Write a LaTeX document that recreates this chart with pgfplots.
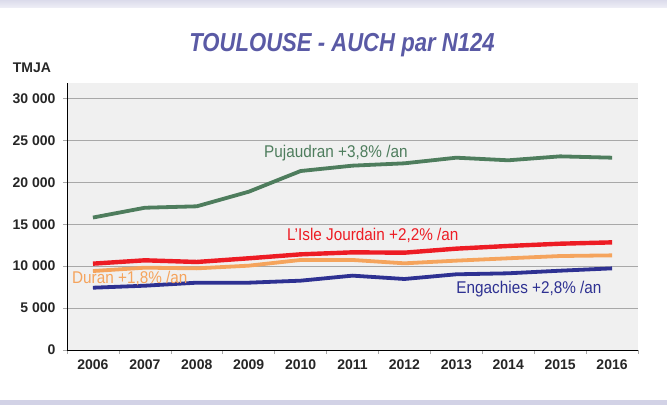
\documentclass[border=0pt]{standalone}
\usepackage{pgfplots}
\pgfplotsset{compat=1.18}
\usepackage{fontspec}
\setmainfont{Liberation Sans}
\newfontfamily\narrowfont[FakeStretch=0.9]{Liberation Sans}
\newfontfamily\titlefont[FakeStretch=0.85]{Liberation Sans}
\definecolor{titleblue}{HTML}{5A5AA5}
\definecolor{pujgreen}{HTML}{4E7D5D}
\definecolor{islered}{HTML}{ED1C24}
\definecolor{duranorange}{HTML}{F5A45D}
\definecolor{engblue}{HTML}{2E3192}
\definecolor{plotbg}{HTML}{F0F0F0}
\definecolor{gridgray}{HTML}{A8A8A8}
\definecolor{band}{HTML}{D2D2E6}

\pgfplotstableread{
x pujaudran isle duran engachies
0 15800 10300 9420 7430
1 16970 10700 9820 7670
2 17140 10500 9740 8030
3 18880 10940 10060 8030
4 21350 11410 10740 8270
5 21990 11650 10740 8870
6 22270 11610 10340 8470
7 22940 12090 10660 9030
8 22630 12410 10940 9150
9 23100 12680 11210 9460
10 22940 12840 11290 9740
}\trafic

\begin{document}
\begin{tikzpicture}[x=1bp,y=1bp]
\begin{axis}[
    at={(0,0)}, anchor=south west,
    width=571bp, height=267bp, scale only axis,
    xmin=-0.5, xmax=10.5,
    ymin=0, ymax=31850,
    axis x line*=bottom, axis y line*=left,
    axis line style={black, line width=0.8bp, -},
    axis background/.style={fill=plotbg},
    xtick={0,...,10},
    xticklabels={2006,2007,2008,2009,2010,2011,2012,2013,2014,2015,2016},
    major x tick style={draw=none},
    minor xtick={-0.5,0.5,...,10.5},
    minor x tick style={gridgray, line width=0.6bp},
    minor tick length=4bp,
    ytick={0,5000,...,30000},
    yticklabels={0,5 000,10 000,15 000,20 000,25 000,30 000},
    scaled y ticks=false,
    major y tick style={gridgray, line width=0.6bp},
    major tick length=4bp,
    tick align=outside,
    ymajorgrids,
    major grid style={gridgray, line width=0.8bp},
    tick label style={font=\fontsize{14bp}{16bp}\selectfont\bfseries, text=black!85},
    /pgf/number format/assume math mode=true,
    yticklabel style={xshift=-4bp},
    xticklabel style={yshift=-2bp},
    clip=false,
]
  \addplot[pujgreen, line width=3.8bp] table[x=x, y=pujaudran] {\trafic};
  \addplot[duranorange, line width=3.8bp] table[x=x, y=duran] {\trafic};
  \addplot[islered, line width=4.4bp] table[x=x, y=isle] {\trafic};
  \addplot[engblue, line width=3.8bp] table[x=x, y=engachies] {\trafic};

  \node[text=pujgreen, font=\fontsize{17bp}{19bp}\narrowfont] at (axis cs:4.68,23500) {Pujaudran +3,8\% /an};
  \node[text=islered, font=\fontsize{17bp}{19bp}\narrowfont] at (axis cs:5.39,13720) {L’Isle Jourdain +2,2\% /an};
  \node[text=duranorange, font=\fontsize{17bp}{19bp}\narrowfont] at (axis cs:0.71,8590) {Duran +1,8\% /an};
  \node[text=engblue, font=\fontsize{17bp}{19bp}\narrowfont] at (axis cs:8.40,7280) {Engachies +2,8\% /an};
\end{axis}
% title, unit and frame bands
\node[text=titleblue, font=\fontsize{26bp}{28bp}\titlefont\bfseries\itshape] at (275,305) {TOULOUSE - AUCH par N124};
\node[font=\fontsize{14bp}{16bp}\selectfont\bfseries, text=black!85] at (-35,282) {TMJA};
\shade[top color=band!80, bottom color=band!40] (-67,343) rectangle (600,350);
\fill[band] (-67,-55) rectangle (600,-50);
\useasboundingbox (-67,-55) rectangle (600,350);
\end{tikzpicture}
\end{document}
